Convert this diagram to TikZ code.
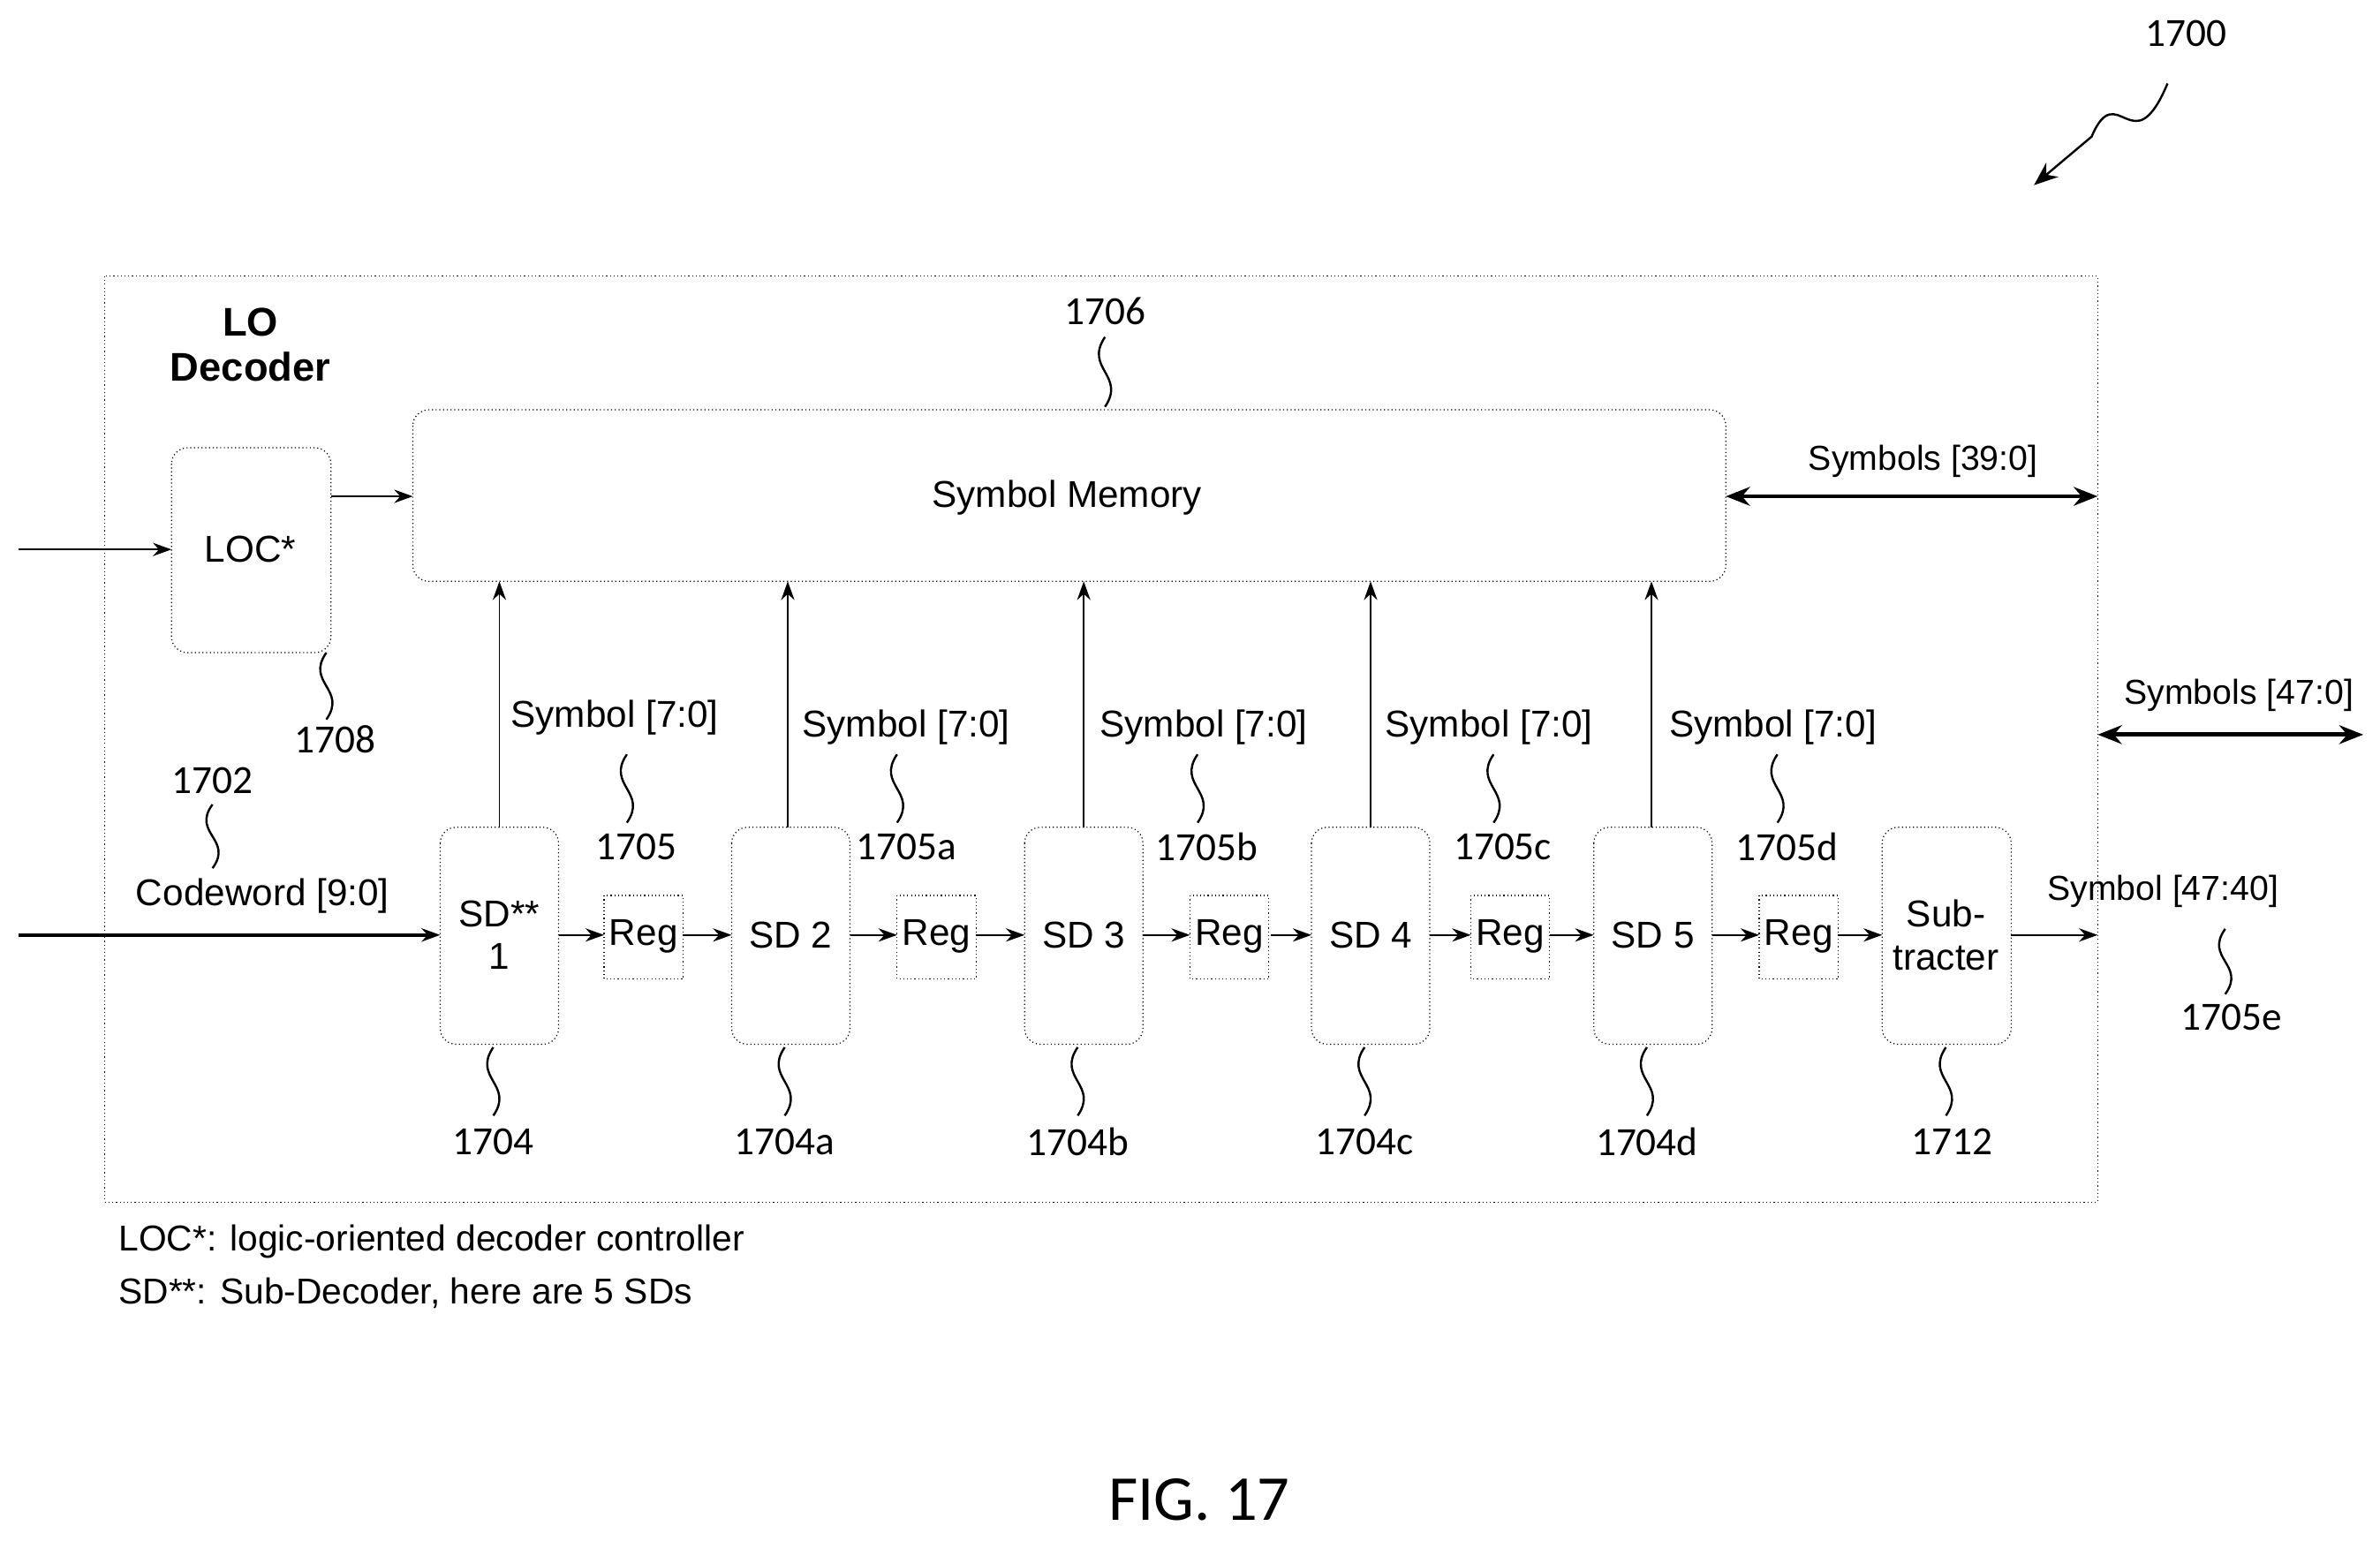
\documentclass[tikz,border=0pt]{standalone}
\usepackage{fontspec}
\setmainfont{Liberation Sans}
\newfontfamily\numf{Carlito}
\usetikzlibrary{arrows.meta}
\begin{document}
\begin{tikzpicture}[x=0.02cm,y=-0.02cm,
  box/.style={draw,densely dotted,rounded corners=6pt,inner sep=0pt},
  reg/.style={draw,densely dotted,inner sep=0pt},
  lbl/.style={font=\fontsize{14}{16}\selectfont},
  num/.style={font=\numf\fontsize{15}{17}\selectfont},
  arr/.style={-{Stealth[length=7pt,width=5pt]},line width=0.6pt},
  bus/.style={{Stealth[length=9pt,width=7pt]}-{Stealth[length=9pt,width=7pt]},line width=1.6pt},
  sq/.style={line width=0.8pt}]
\useasboundingbox (0,0) rectangle (1568,1015);
\newcommand\squig[3]{\draw[sq] (#1,#2) .. controls (#1-14,{#2+(#3-#2)*0.45}) and (#1+14,{#2+(#3-#2)*0.55}) .. (#1,#3);}
% outer
\draw[densely dotted] (69,182) rectangle (1382,792);
\node[font=\bfseries\fontsize{15}{17}\selectfont,align=center] (title) at (165,227) {LO\\Decoder};
% memory
\draw[box] (272,270) rectangle (1137,383);
\node[lbl] (mem) at (703,328) {Symbol Memory};
\coordinate (memL) at (272,327); \coordinate (memR) at (1137,327);
\node[num] (n1706) at (728,205) {1706}; \squig{728}{222}{268}
% LOC
\draw[box] (113,295) rectangle (218,430);
\node[lbl] (loc) at (165,362) {LOC*};
\coordinate (inL) at (12,362); \coordinate (locL) at (113,362);
\draw[arr] (inL) -- (locL);
\coordinate (locR) at (218,327);
\draw[arr] (locR) -- (memL);
\node[num] (n1708) at (221,487) {1708}; \squig{215}{430}{474}
% buses
\coordinate (s39) at (1382,327);
\draw[bus] (memR) -- (s39);
\node[lbl,font=\fontsize{13}{15}\selectfont] (l39) at (1267,304) {Symbols [39:0]};
\coordinate (b47a) at (1382,484); \coordinate (b47b) at (1557,484);
\draw[bus] (b47a) -- (b47b);
\node[lbl,font=\fontsize{13}{15}\selectfont] (l47) at (1475,458) {Symbols [47:0]};
% codeword
\coordinate (cwin) at (12,616);
\node[lbl] (cw) at (173,590) {Codeword [9:0]};
\node[num] (n1702) at (140,514) {1702}; \squig{140}{530}{572}
% SD boxes
\foreach \n/\x/\t/\num in {sd1/329/{SD**\\1}/1704, sd2/521/SD 2/1704a, sd3/714/SD 3/1704b, sd4/903/SD 4/1704c, sd5/1089/SD 5/1704d}{
  \draw[box] (\x-39,545) rectangle (\x+39,688);
  \node[lbl,align=center,inner sep=0pt] (\n) at (\x,616) {\t};
  \squig{\x-4}{690}{735}
  \node[num] at (\x-4,752) {\num};
}
\draw[box] (1240,545) rectangle (1325,688);
\node[lbl,align=center,inner sep=0pt] (sub) at (1282,616) {Sub-\\tracter};
\squig{1282}{690}{735}
\node[num] (n1712) at (1286,752) {1712};
\foreach \r/\x in {r1/424,r2/617,r3/810,r4/995,r5/1185}{
  \draw[reg] (\x-26,590) rectangle (\x+26,645);
  \node[lbl] (\r) at (\x,617) {Reg};
}
% row arrows
\coordinate (cwend) at (290,616);
\draw[arr,line width=1.2pt] (cwin) -- (cwend);
\foreach \a/\b in {368/398,450/482,560/591,643/675,753/784,837/864,942/969,1021/1050,1128/1159,1211/1240}{
  \coordinate (p) at (\a,616); \coordinate (q) at (\b,616);
  \draw[arr] (p) -- (q);
}
\coordinate (subR) at (1325,616); \coordinate (outR) at (1382,616);
\draw[arr] (subR) -- (outR);
\node[lbl,font=\fontsize{13}{15}\selectfont] (l4740) at (1425,587) {Symbol [47:40]};
\node[num] (n1705e) at (1470,670) {1705e}; \squig{1466}{612}{655}
% vertical arrows and labels
\foreach \x/\lx/\ly/\nx/\nl in {329/405/473/419/1705, 519/597/479/597/1705a, 714/793/479/795/1705b, 903/981/479/990/1705c, 1088/1168/479/1177/1705d}{
  \coordinate (vb) at (\x,545); \coordinate (vt) at (\x,383);
  \draw[arr] (vb) -- (vt);
  \node[lbl] at (\lx,\ly) {Symbol [7:0]};
  \squig{\nx-6}{497}{542}
  \node[num] at (\nx,558) {\nl};
}
% footnotes
\node[lbl,anchor=west,font=\fontsize{13.5}{15}\selectfont] (f1) at (72,818) {LOC*: logic-oriented decoder controller};
\node[lbl,anchor=west,font=\fontsize{13.5}{15}\selectfont] (f2) at (72,852) {SD**: Sub-Decoder, here are 5 SDs};
% figure label
\node[font=\numf\fontsize{24}{26}\selectfont] (fig) at (790,988) {FIG. 17};
\node[num] (n1700) at (1440,22) {1700};
\coordinate (a1) at (1428,55); \coordinate (a2) at (1340,122);
\draw[sq,-{Stealth[length=9pt,width=7pt]}] (a1) .. controls (1405,110) and (1395,50) .. (1378,90) -- (a2);
\end{tikzpicture}
\end{document}
